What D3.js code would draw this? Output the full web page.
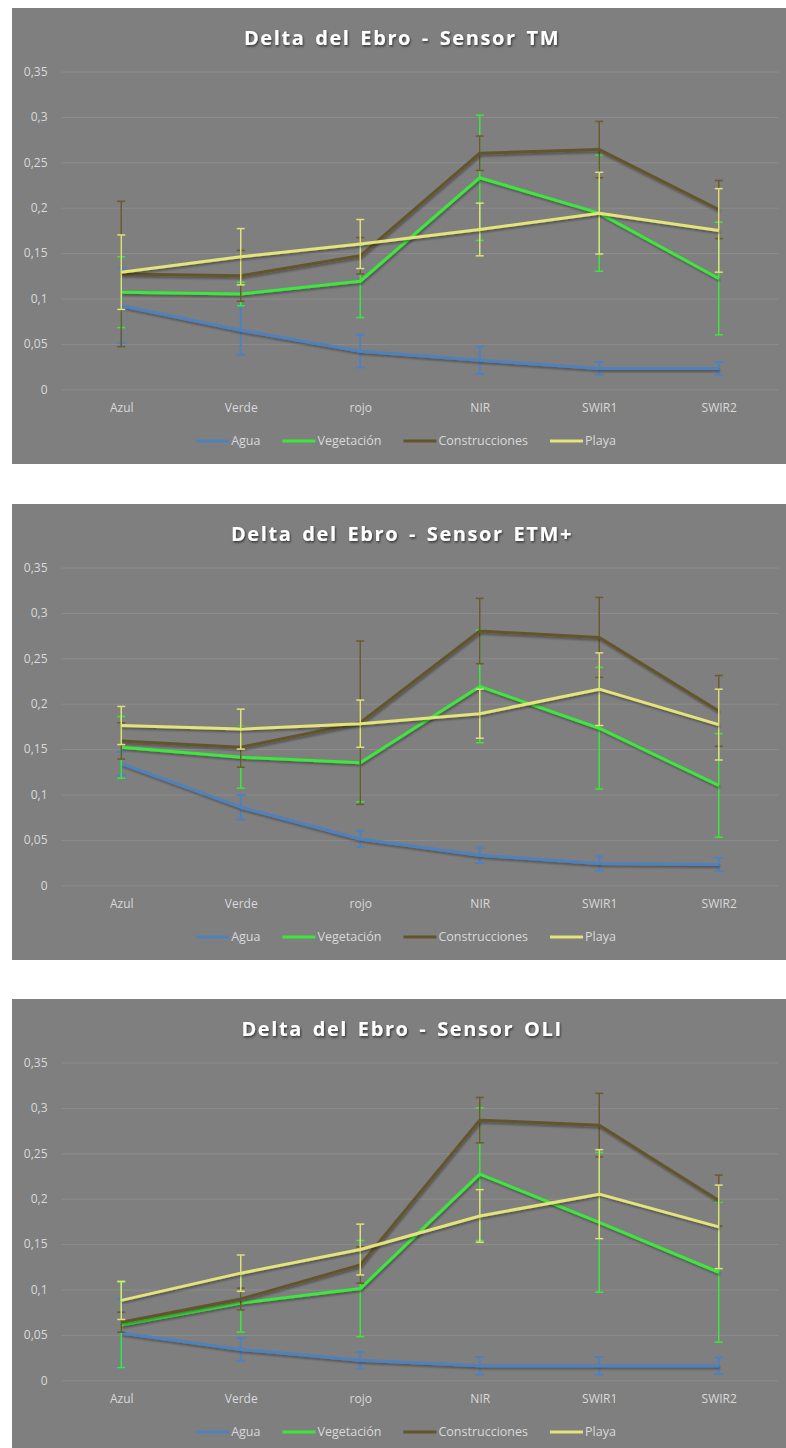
<!DOCTYPE html>
<html>
<head>
<meta charset="utf-8">
<script src="https://cdn.jsdelivr.net/npm/d3@7"></script>
<style>
  body { margin: 0; background: #fff; }
  svg { display: block; }
  text { font-family: 'Open Sans', 'Noto Sans', sans-serif; }
  .tick text { fill: #d9d9d9; font-size: 12px; }
  .tick line { stroke: #8d8d8d; stroke-width: 1; }
  .title { fill: #fff; font-size: 20px; font-weight: bold; letter-spacing: 1.6px; word-spacing: 3px; }
  .legend text { fill: #d9d9d9; font-size: 12.5px; }
</style>
</head>
<body>
<svg width="786" height="1448"></svg>
<script>
const categories = ['Azul', 'Verde', 'rojo', 'NIR', 'SWIR1', 'SWIR2'];
const seriesNames = ['Agua', 'Vegetación', 'Construcciones', 'Playa'];
const yTicks = [0, 0.05, 0.1, 0.15, 0.2, 0.25, 0.3, 0.35];

// Sensor TM
const tmAgua = [0.092, 0.065, 0.042, 0.032, 0.023, 0.023];
const tmAguaErr = [0.041, 0.027, 0.018, 0.015, 0.007, 0.007];
const tmVegetacion = [0.107, 0.105, 0.119, 0.233, 0.194, 0.122];
const tmVegetacionErr = [0.039, 0.013, 0.040, 0.069, 0.064, 0.062];
const tmConstrucciones = [0.127, 0.125, 0.147, 0.260, 0.264, 0.198];
const tmConstruccionesErr = [0.080, 0.028, 0.020, 0.019, 0.031, 0.032];
const tmPlaya = [0.129, 0.146, 0.160, 0.176, 0.194, 0.175];
const tmPlayaErr = [0.041, 0.031, 0.027, 0.029, 0.045, 0.046];

// Sensor ETM+
const etmAgua = [0.134, 0.086, 0.051, 0.033, 0.024, 0.023];
const etmAguaErr = [0.013, 0.0135, 0.009, 0.0084, 0.0077, 0.0074];
const etmVegetacion = [0.152, 0.141, 0.135, 0.219, 0.173, 0.110];
const etmVegetacionErr = [0.034, 0.034, 0.043, 0.062, 0.067, 0.057];
const etmConstrucciones = [0.159, 0.152, 0.179, 0.280, 0.273, 0.192];
const etmConstruccionesErr = [0.020, 0.022, 0.090, 0.036, 0.044, 0.039];
const etmPlaya = [0.176, 0.172, 0.178, 0.189, 0.216, 0.177];
const etmPlayaErr = [0.021, 0.022, 0.026, 0.027, 0.040, 0.039];

// Sensor OLI
const oliAgua = [0.052, 0.034, 0.022, 0.016, 0.016, 0.016];
const oliAguaErr = [0.038, 0.0125, 0.009, 0.0097, 0.0097, 0.009];
const oliVegetacion = [0.061, 0.085, 0.101, 0.227, 0.174, 0.119];
const oliVegetacionErr = [0.047, 0.032, 0.053, 0.073, 0.077, 0.077];
const oliConstrucciones = [0.064, 0.0895, 0.127, 0.2865, 0.281, 0.198];
const oliConstruccionesErr = [0.011, 0.012, 0.020, 0.025, 0.035, 0.028];
const oliPlaya = [0.088, 0.118, 0.144, 0.181, 0.205, 0.169];
const oliPlayaErr = [0.021, 0.020, 0.028, 0.029, 0.049, 0.046];

const charts = [
  { title: 'Delta del Ebro - Sensor TM', top: 8,
    values: [tmAgua, tmVegetacion, tmConstrucciones, tmPlaya],
    errors: [tmAguaErr, tmVegetacionErr, tmConstruccionesErr, tmPlayaErr] },
  { title: 'Delta del Ebro - Sensor ETM+', top: 504,
    values: [etmAgua, etmVegetacion, etmConstrucciones, etmPlaya],
    errors: [etmAguaErr, etmVegetacionErr, etmConstruccionesErr, etmPlayaErr] },
  { title: 'Delta del Ebro - Sensor OLI', top: 999,
    values: [oliAgua, oliVegetacion, oliConstrucciones, oliPlaya],
    errors: [oliAguaErr, oliVegetacionErr, oliConstruccionesErr, oliPlayaErr] }
];

const colors = ['#4f81bd', '#3ae83a', '#64542c', '#e4e47a'];
const errColors = ['#4f81bd', '#3ae83a', '#6b5a30', '#e0e07a'];

const svg = d3.select('svg');

const defs = svg.append('defs');
const shadow = defs.append('filter').attr('id', 'shadow')
  .attr('x', '-10%').attr('y', '-10%').attr('width', '120%').attr('height', '130%');
shadow.append('feDropShadow').attr('dx', 1).attr('dy', 2).attr('stdDeviation', 1.2)
  .attr('flood-color', '#000').attr('flood-opacity', 0.35);
const tshadow = defs.append('filter').attr('id', 'tshadow');
tshadow.append('feDropShadow').attr('dx', 1).attr('dy', 1.5).attr('stdDeviation', 1)
  .attr('flood-color', '#000').attr('flood-opacity', 0.6);

const panelX = 12;
const panelW = 774;
const panelH = 456;
const plotLeft = 61.5;
const plotRight = 778.5;

const locale = d3.formatLocale({ decimal: ',', thousands: '.', grouping: [3], currency: ['', '€'] });
const fmt = locale.format('~g');

const xScale = d3.scalePoint().domain(categories).range([plotLeft, plotRight]).padding(0.5);

charts.forEach(chart => {
  const g = svg.append('g').attr('transform', `translate(0,${chart.top})`);

  g.append('rect')
    .attr('x', panelX).attr('y', 0)
    .attr('width', panelW).attr('height', panelH)
    .attr('fill', '#7f7f7f');

  const yScale = d3.scaleLinear().domain([0, 0.35]).range([381.3, 63.5]);

  const yAxis = d3.axisLeft(yScale)
    .tickValues(yTicks)
    .tickFormat(fmt)
    .tickSize(-(plotRight - plotLeft))
    .tickPadding(14);
  const yAxisG = g.append('g').attr('transform', `translate(${plotLeft},0)`).call(yAxis);
  yAxisG.select('.domain').remove();

  const xAxis = d3.axisBottom(xScale).tickSize(0).tickPadding(14);
  const xAxisG = g.append('g').attr('transform', `translate(0,${yScale(0)})`).call(xAxis);
  xAxisG.select('.domain').remove();

  g.append('text')
    .attr('class', 'title')
    .attr('x', 402)
    .attr('y', 30)
    .attr('dy', '0.35em')
    .attr('text-anchor', 'middle')
    .attr('filter', 'url(#tshadow)')
    .text(chart.title);

  const lineGenerator = d3.line()
    .x((d, i) => xScale(categories[i]))
    .y(d => yScale(d));

  chart.values.forEach((vals, s) => {
    const sg = g.append('g').attr('class', 'series');
    const errs = chart.errors[s];
    const capW = s === 0 ? 4.5 : 4;
    const errW = s === 0 ? 2 : 1.5;

    // error bars
    const eb = sg.selectAll('.err').data(vals).enter().append('g').attr('class', 'err')
      .attr('stroke', errColors[s]).attr('stroke-width', errW);
    eb.append('line')
      .attr('x1', (d, i) => xScale(categories[i]))
      .attr('x2', (d, i) => xScale(categories[i]))
      .attr('y1', (d, i) => yScale(d + errs[i]))
      .attr('y2', (d, i) => yScale(d - errs[i]));
    eb.append('line')
      .attr('x1', (d, i) => xScale(categories[i]) - capW)
      .attr('x2', (d, i) => xScale(categories[i]) + capW)
      .attr('y1', (d, i) => yScale(d + errs[i]))
      .attr('y2', (d, i) => yScale(d + errs[i]));
    eb.append('line')
      .attr('x1', (d, i) => xScale(categories[i]) - capW)
      .attr('x2', (d, i) => xScale(categories[i]) + capW)
      .attr('y1', (d, i) => yScale(d - errs[i]))
      .attr('y2', (d, i) => yScale(d - errs[i]));

    sg.append('path')
      .attr('d', lineGenerator(vals))
      .attr('fill', 'none')
      .attr('stroke', colors[s])
      .attr('stroke-width', 3)
      .attr('stroke-linejoin', 'round')
      .attr('filter', 'url(#shadow)');
  });

  // legend
  const legend = g.append('g').attr('class', 'legend');
  const items = legend.selectAll('g').data(seriesNames).enter().append('g');
  items.append('line')
    .attr('x1', 0).attr('x2', 33)
    .attr('y1', 0).attr('y2', 0)
    .attr('stroke', (d, i) => colors[i])
    .attr('stroke-width', 3);
  items.append('text')
    .attr('x', 35)
    .attr('dy', '0.35em')
    .text(d => d);

  let xPos = 0;
  const positions = [];
  items.each(function () {
    const w = 35 + this.querySelector('text').getComputedTextLength();
    positions.push(xPos);
    xPos += w + 22;
  });
  const total = xPos - 22;
  const startX = 406 - total / 2;
  items.attr('transform', (d, i) => `translate(${startX + positions[i]},433)`);
});
</script>
</body>
</html>
